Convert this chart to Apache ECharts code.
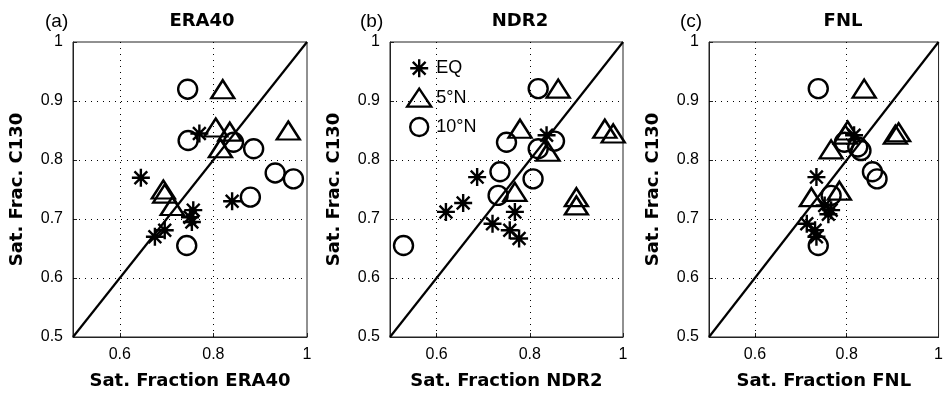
<!DOCTYPE html>
<html>
<head>
<meta charset="utf-8">
<script src="https://cdn.jsdelivr.net/npm/echarts@6/dist/echarts.min.js"></script>
<style>
html,body{margin:0;padding:0;background:#fff;}
#chart{width:946px;height:395px;}
</style>
</head>
<body>
<div id="chart"></div>
<script>
// ---- data ----
const panels = ['ERA40', 'NDR2', 'FNL'];
const panelTags = ['(a)', '(b)', '(c)'];
const groupNames = ['EQ', '5°N', '10°N'];
const xTickLabels = [0.6, 0.8, 1];
const yTickLabels = [0.5, 0.6, 0.7, 0.8, 0.9, 1];
const oneToOne = [[0.5, 0.5], [1, 1]];

// ERA40 panel: [sat. fraction reanalysis, sat. fraction C130]
const era40EQ = [[0.77,0.845],[0.645,0.77],[0.84,0.73],[0.757,0.715],[0.75,0.703],[0.754,0.695],[0.696,0.681],[0.675,0.67]];
const era405N = [[0.82,0.92],[0.96,0.85],[0.805,0.855],[0.835,0.848],[0.815,0.82],[0.693,0.75],[0.696,0.743],[0.712,0.722]];
const era4010N = [[0.745,0.92],[0.746,0.833],[0.843,0.83],[0.886,0.819],[0.932,0.778],[0.971,0.768],[0.879,0.737],[0.743,0.655]];

// NDR2 panel
const ndr2EQ = [[0.836,0.842],[0.687,0.771],[0.657,0.727],[0.62,0.712],[0.768,0.712],[0.72,0.692],[0.757,0.681],[0.777,0.667]];
const ndr25N = [[0.861,0.921],[0.779,0.853],[0.961,0.853],[0.979,0.845],[0.839,0.814],[0.768,0.746],[0.9,0.737],[0.9,0.723]];
const ndr210N = [[0.818,0.921],[0.75,0.83],[0.853,0.832],[0.818,0.819],[0.736,0.78],[0.807,0.768],[0.732,0.74],[0.529,0.655]];

// FNL panel
const fnlEQ = [[0.816,0.842],[0.734,0.771],[0.752,0.723],[0.766,0.715],[0.76,0.708],[0.713,0.692],[0.731,0.681],[0.734,0.67]];
const fnl5N = [[0.838,0.921],[0.802,0.85],[0.797,0.843],[0.766,0.818],[0.906,0.843],[0.913,0.847],[0.784,0.748],[0.723,0.737]];
const fnl10N = [[0.738,0.921],[0.795,0.83],[0.824,0.822],[0.831,0.816],[0.856,0.78],[0.866,0.768],[0.766,0.74],[0.738,0.655]];

const panelData = [
  [era40EQ, era405N, era4010N],
  [ndr2EQ, ndr25N, ndr210N],
  [fnlEQ, fnl5N, fnl10N]
];

// ---- layout / style ----
const FONT = '"Liberation Sans", Arial, Helvetica, sans-serif';
const BOLD = '"DejaVu Sans", "Liberation Sans", sans-serif';
const gridLefts = [73, 390, 709];
const gridWidths = [234, 233, 233];
const titleCenters = [197, 515, 838];
const tagLefts = [40, 355, 675];
const starPath = 'path://M10,0 L10,20 M0,10 L20,10 M2.9,2.9 L17.1,17.1 M2.9,17.1 L17.1,2.9';
const symbols = [starPath, 'triangle', 'circle'];
const symbolSizes = [18, [23, 18], 19];

const grids = [], xAxes = [], yAxes = [], series = [], titles = [];
for (let p = 0; p < 3; p++) {
  grids.push({left: gridLefts[p], top: 42, width: gridWidths[p], height: 295,
    show: true, borderColor: '#222', borderWidth: 1, backgroundColor: 'transparent'});
  xAxes.push({
    type: 'value', gridIndex: p, min: 0.5, max: 1, interval: 0.1,
    name: 'Sat. Fraction ' + panels[p], nameLocation: 'middle', nameGap: 35,
    nameTextStyle: {fontFamily: BOLD, fontWeight: 'bold', fontSize: 18, color: '#000'},
    axisLine: {show: true, onZero: false, lineStyle: {color: '#222', width: 1}},
    axisTick: {show: true, inside: true, length: 4, customValues: xTickLabels, lineStyle: {color: '#222'}},
    axisLabel: {customValues: xTickLabels, fontFamily: FONT, fontSize: 16, color: '#000', margin: 10,
      formatter: v => String(+v.toFixed(1))},
    splitLine: {show: false}
  });
  yAxes.push({
    type: 'value', gridIndex: p, min: 0.5, max: 1, interval: 0.1,
    name: 'Sat. Frac. C130', nameLocation: 'middle', nameGap: 47, nameRotate: 90,
    nameTextStyle: {fontFamily: BOLD, fontWeight: 'bold', fontSize: 18, color: '#000'},
    axisLine: {show: true, onZero: false, lineStyle: {color: '#222', width: 1}},
    axisTick: {show: true, inside: true, length: 4, customValues: yTickLabels, lineStyle: {color: '#222'}},
    axisLabel: {customValues: yTickLabels, fontFamily: FONT, fontSize: 16, color: '#000', margin: 10,
      formatter: v => String(+v.toFixed(1))},
    splitLine: {show: false}
  });
  // reference 1:1 line with dotted grid lines
  series.push({
    type: 'line', name: '1:1', xAxisIndex: p, yAxisIndex: p, data: oneToOne,
    symbol: 'none', silent: true, z: 3,
    lineStyle: {color: '#000', width: 2.2},
    markLine: {
      silent: true, symbol: 'none', label: {show: false}, z: 1,
      lineStyle: {color: '#000', width: 1, type: [1, 5]},
      data: [{xAxis: 0.6}, {xAxis: 0.8}, {yAxis: 0.6}, {yAxis: 0.7}, {yAxis: 0.8}, {yAxis: 0.9}]
    }
  });
  for (let g = 0; g < 3; g++) {
    series.push({
      type: 'scatter', name: groupNames[g], xAxisIndex: p, yAxisIndex: p,
      data: panelData[p][g], symbol: symbols[g], symbolSize: symbolSizes[g], z: 4,
      itemStyle: {color: 'transparent', borderColor: '#000', borderWidth: 2.4, opacity: 1},
      emphasis: {disabled: true}
    });
  }
  titles.push({text: panels[p], left: titleCenters[p], top: 7, textAlign: 'center',
    textStyle: {fontFamily: BOLD, fontWeight: 'bold', fontSize: 18, color: '#000'}});
  titles.push({text: panelTags[p], left: tagLefts[p], top: 7,
    textStyle: {fontFamily: FONT, fontWeight: 'normal', fontSize: 19, color: '#000'}});
}

const chart = echarts.init(document.getElementById('chart'), null, {renderer: 'canvas'});
chart.setOption({
  animation: false,
  backgroundColor: '#fff',
  title: titles,
  grid: grids,
  xAxis: xAxes,
  yAxis: yAxes,
  legend: {
    data: groupNames, orient: 'vertical', left: 406, top: 58,
    itemWidth: 24, itemHeight: 18, itemGap: 9, padding: 0,
    selectedMode: false,
    textStyle: {fontFamily: FONT, fontSize: 18, color: '#000', padding: [0, 0, 0, 0]},
    itemStyle: {borderWidth: 2.4, opacity: 1}
  },
  series: series
});
</script>
</body>
</html>
